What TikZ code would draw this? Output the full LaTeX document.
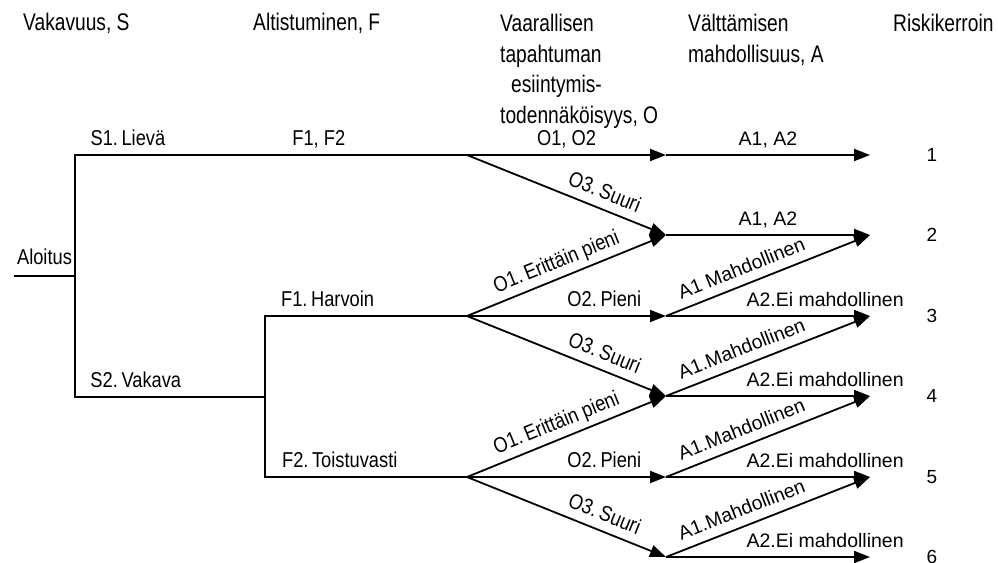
\documentclass[tikz,border=0pt]{standalone}
\usepackage{fontspec}
\setmainfont{Liberation Sans}
\newfontfamily\narrowfont{Liberation Sans}[FakeStretch=0.85]
\newfontfamily\headfont{Liberation Sans}[FakeStretch=0.8]
\usetikzlibrary{arrows.meta}

\begin{document}
\begin{tikzpicture}[
  x=1pt, y=-1pt,
  ln/.style={line width=1.8pt},
  arr/.style={ln, -{Triangle[length=16pt, width=12pt]}},
  head/.style={font=\headfont\fontsize{24}{30.5}\selectfont, inner sep=0pt, anchor=north west, align=left},
  lbl/.style={font=\narrowfont\fontsize{21.5}{24}\selectfont, inner sep=1pt, text depth=0pt, above=8pt},
  albl/.style={lbl, font=\fontsize{19.5}{24}\selectfont},
  num/.style={font=\fontsize{19}{24}\selectfont, inner sep=0pt}
]
  \useasboundingbox (0,0) rectangle (998,562);

  % Otsikot
  \node[head] (hS) at ( 23,13) {Vakavuus, S};
  \node[head] (hF) at (253,13) {Altistuminen, F};
  \node[head] (hO) at (500,14) {Vaarallisen\\tapahtuman\\\hspace*{11pt}esiintymis-\\todennäköisyys, O};
  \node[head] (hA) at (688,14) {Välttämisen\\mahdollisuus, A};
  \node[head] (hR) at (893,14) {Riskikerroin};

  % Haarautumispisteet
  \coordinate (al) at ( 14,276);
  \coordinate (s0) at ( 75,276);
  \coordinate (s1) at ( 75,155);
  \coordinate (s2) at ( 75,397);
  \coordinate (f0) at (265,397);
  \coordinate (f1) at (265,316);
  \coordinate (f2) at (265,477);
  \coordinate (o1) at (467,155);
  \coordinate (oh) at (467,316);
  \coordinate (ot) at (467,477);
  \coordinate (a1) at (666,155); \coordinate (r1) at (870,155);
  \coordinate (a2) at (666,235); \coordinate (r2) at (870,235);
  \coordinate (a3) at (666,316); \coordinate (r3) at (870,316);
  \coordinate (a4) at (666,396); \coordinate (r4) at (870,396);
  \coordinate (a5) at (666,477); \coordinate (r5) at (870,477);
  \coordinate (a6) at (666,557); \coordinate (r6) at (870,557);

  % Vakavuus ja altistuminen
  \draw[ln] (al) -- node[lbl, above=2pt] (tAl) {Aloitus} (s0);
  \draw[ln] (o1) -- node[lbl, pos=0.378] (tF12) {F1, F2} node[lbl, pos=0.865] (tS1) {S1.\,Lievä} (s1)
    -- (s2) -- node[lbl, pos=0.32] (tS2) {S2.\,Vakava} (f0);
  \draw[ln] (oh) -- node[lbl, pos=0.69] (tF1) {F1.\,Harvoin} (f1)
    -- (f2) -- node[lbl, pos=0.37] (tF2) {F2.\,Toistuvasti} (ot);

  % Todennakoisyys O
  \draw[arr] (o1) -- node[lbl] (tO12) {O1, O2} (a1);
  \draw[arr] (o1) -- node[lbl, sloped, pos=0.66] (tO3a) {O3.\,Suuri} (a2);
  \draw[arr] (oh) -- node[lbl, sloped, pos=0.48] (tO1b) {O1.\,Erittäin pieni} (a2);
  \draw[arr] (oh) -- node[lbl, pos=0.69] (tO2b) {O2.\,Pieni} (a3);
  \draw[arr] (oh) -- node[lbl, sloped, pos=0.66] (tO3b) {O3.\,Suuri} (a4);
  \draw[arr] (ot) -- node[lbl, sloped, pos=0.48] (tO1c) {O1.\,Erittäin pieni} (a4);
  \draw[arr] (ot) -- node[lbl, pos=0.69] (tO2c) {O2.\,Pieni} (a5);
  \draw[arr] (ot) -- node[lbl, sloped, pos=0.66] (tO3c) {O3.\,Suuri} (a6);

  % Valttamisen mahdollisuus A
  \draw[arr] (a1) -- node[albl] (tA1) {A1, A2} (r1);
  \draw[arr] (a2) -- node[albl] (tA2) {A1, A2} (r2);
  \draw[arr] (a3) -- node[albl, sloped, pos=0.4] (tM3) {A1 Mahdollinen} (r2);
  \draw[arr] (a3) -- node[albl, pos=0.78] (tE3) {A2.Ei mahdollinen} (r3);
  \draw[arr] (a4) -- node[albl, sloped, pos=0.4] (tM4) {A1.Mahdollinen} (r3);
  \draw[arr] (a4) -- node[albl, pos=0.78] (tE4) {A2.Ei mahdollinen} (r4);
  \draw[arr] (a5) -- node[albl, sloped, pos=0.4] (tM5) {A1.Mahdollinen} (r4);
  \draw[arr] (a5) -- node[albl, pos=0.78] (tE5) {A2.Ei mahdollinen} (r5);
  \draw[arr] (a6) -- node[albl, sloped, pos=0.4] (tM6) {A1.Mahdollinen} (r5);
  \draw[arr] (a6) -- node[albl, pos=0.78] (tE6) {A2.Ei mahdollinen} (r6);

  % Riskikerroin
  \node[num] (n1) at (932,155) {1};
  \node[num] (n2) at (932,235) {2};
  \node[num] (n3) at (932,316) {3};
  \node[num] (n4) at (932,396) {4};
  \node[num] (n5) at (932,477) {5};
  \node[num] (n6) at (932,557) {6};
\end{tikzpicture}
\end{document}
